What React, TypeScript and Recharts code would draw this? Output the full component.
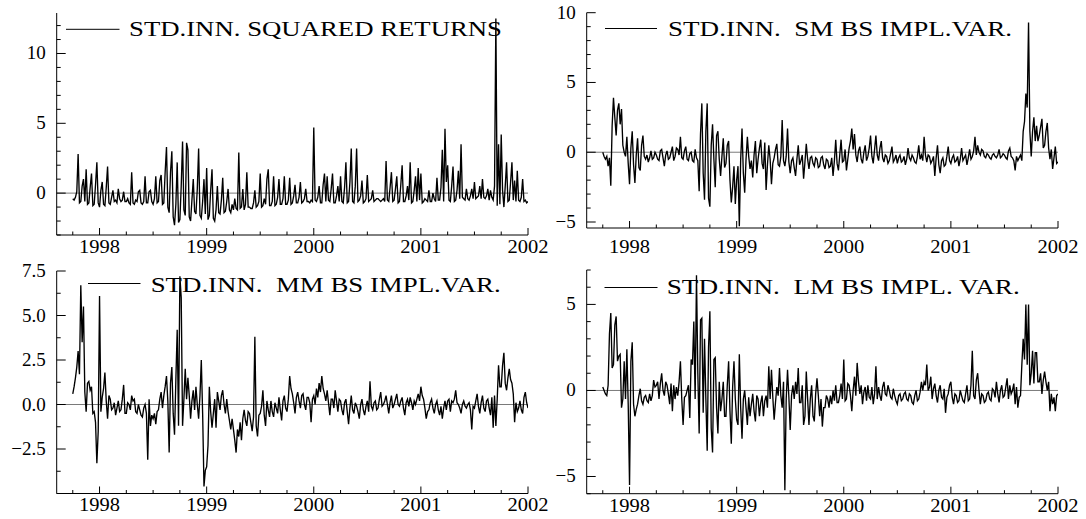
import React from 'react'
import { LineChart, Line, XAxis, YAxis, ReferenceLine, Legend } from 'recharts'

const W = 1086
const H = 519
const FONT = '"Liberation Serif", "Times New Roman", serif'

// observations every 0.0125 year from 1997.75, twenty per quarter, last one at 2002.0
const START = 1997.75
const STEP = 0.0125

const squaredReturns = [
  -0.4, -0.5, -0.3, 0.1, 2.8, -0.7, -0.6, 0.5, 1.0, -0.6, 1.7, -0.8, -0.7, 0.4, 1.4, -0.9, -0.8, 0.6, 2.2, -0.7,
  -1.0, 0.2, 0.8, -0.8, -0.9, 0.4, 1.9, -0.7, -0.8, -0.3, 0.2, -0.6, -0.5, -0.7, 0.3, -0.4, -0.6, -0.5, 0.1, -0.6,
  -0.6, -0.4, -0.7, -0.8, 1.5, -0.7, -0.8, -0.5, -0.6, 0.1, 0.2, -0.7, -0.8, -0.6, 1.2, -0.7, -0.7, 0.1, 0.2, -0.6,
  -0.8, -0.4, 1.2, -0.7, -0.6, 0.9, 1.3, -0.8, -0.7, 1.5, 3.3, -1.0, -1.4, 1.5, 3.0, -1.7, -2.3, -0.8, 2.2, -2.1,
  -1.9, 0.5, 3.7, -1.2, -1.6, 3.6, 3.1, -1.7, -2.0, -0.5, 1.0, -1.3, -1.5, 0.3, 3.2, -1.6, -1.8, -0.6, 1.0, -1.5,
  1.8, -1.9, -1.6, 0.2, 1.7, -1.8, -2.0, -1.2, 0.5, -1.4, -1.5, -0.5, 1.1, -1.4, -1.3, -0.6, 0.3, -1.2, -1.4, -0.8,
  -1.2, -0.4, -1.1, -1.2, 2.9, -1.1, -1.0, 0.3, -1.2, -0.8, 1.5, -1.0, -1.0, -1.1, -1.1, -0.7, 0.2, -1.0, -0.9, -0.6,
  1.4, -1.0, -0.9, -0.4, -0.8, 1.0, 1.7, -0.9, -0.9, -0.6, 1.2, -0.9, -0.8, -0.3, 1.0, -0.8, -0.8, -0.4, 1.2, -0.8,
  -0.8, -0.5, 1.1, -0.8, -0.7, -0.2, 0.6, -0.7, -0.7, -0.3, 0.8, -0.7, -0.6, -0.4, 0.3, -0.6, -0.6, -0.7, -0.5, -0.6,
  4.7, -0.5, -0.6, -0.3, 0.5, -0.7, -0.7, 0.6, 1.4, -0.6, 1.2, -0.5, -0.6, 0.3, 1.4, -0.7, -0.7, -0.2, 0.5, -0.6,
  1.2, -0.6, -0.7, 0.4, 2.2, -0.7, -0.6, 0.8, 3.2, -0.6, -0.7, 0.5, 3.2, -0.6, -0.5, -0.2, 0.9, -0.7, -0.6, -0.4,
  1.3, -0.6, -0.5, -0.4, 0.2, -0.6, -0.5, -0.4, -0.4, -0.5, -0.6, -0.5, -0.4, -0.6, 2.3, -0.5, -0.6, 0.4, 1.5, -0.6,
  -0.5, 0.3, 1.2, -0.7, -0.6, 0.6, 2.0, -0.6, -0.6, -0.2, 0.5, -0.5, 2.2, -0.7, -0.6, 0.2, 1.2, -0.6, 1.8, -0.5,
  1.4, -0.7, -0.6, -0.4, -0.5, -0.6, 0.2, -0.6, -0.6, 0.0, -0.4, -0.6, 1.1, -0.5, -0.5, 0.4, 3.1, -0.6, 4.6, 0.8,
  2.0, -0.5, -0.6, 0.5, 1.9, -0.6, -0.5, 0.2, 1.6, -0.4, 3.5, -0.3, -0.4, -0.5, 0.3, -0.4, -0.5, -0.2, 0.3, -0.4,
  0.8, -0.4, -0.3, -0.2, 0.5, -0.4, 1.0, -0.3, -0.4, -0.2, 0.3, -0.5, 0.2, -0.3, -0.5, 0.5, 12.5, -0.9, 3.5, -0.8,
  4.2, 0.2, -1.0, 0.5, 2.2, -0.6, -0.5, 0.8, 2.2, -0.5, 0.9, -0.6, 1.6, -0.5, -0.6, -0.3, 1.0, -0.6, -0.5, -0.7,
  -0.6,
]

const smImplVar = [
  0.0, -0.3, -0.5, -0.3, -1.0, -0.4, -2.4, 1.9, 3.9, 2.5, 1.2, 3.0, 3.5, 2.0, 3.1, 0.5, 0.0, -0.3, 1.1, -0.8,
  -2.3, 0.3, 1.5, -0.9, -2.2, -0.2, 1.0, -1.1, -1.3, 0.5, 1.2, -0.3, -0.5, -0.2, -0.7, -0.4, 0.1, -0.5, -0.4, 0.0,
  -0.2, -0.5, -0.6, 0.1, 0.2, -0.4, -1.0, -0.2, 0.1, -0.5, -0.4, 0.0, 0.4, -0.6, -0.3, 0.3, 0.2, -0.2, 1.1, -0.4,
  -0.5, 0.1, 0.4, -0.5, -0.6, -0.1, 0.0, -0.6, -0.7, 0.2, -0.4, -0.6, -2.8, 1.3, 3.5, -1.5, -3.4, 1.5, 3.5, -3.3,
  -3.9, 0.5, 2.0, -0.5, -2.5, 1.2, 1.5, -0.5, -1.7, -0.3, 1.0, -1.1, -0.8, 0.5, 0.8, -2.0, -3.6, -2.5, -1.0, -3.7,
  -2.0, -1.0, -5.3, -0.5, 1.7, -1.5, -2.9, -0.5, 1.1, -0.3, -1.2, -0.6, -1.8, -0.2, 0.8, -1.5, -0.5, 0.3, 0.9, -0.8,
  -1.2, 0.7, -2.7, -0.9, 0.5, -0.5, -2.3, -0.8, -0.4, 0.2, 0.6, -0.9, -1.0, -0.3, 2.3, -0.6, -1.0, -0.3, 1.7, -0.7,
  -1.5, -0.6, -0.4, -1.1, -1.7, -0.5, 0.5, -0.9, -0.6, -0.2, -1.9, -0.7, 0.6, -0.5, -1.2, -0.4, -0.3, -0.8, -1.0, -0.4,
  -0.5, -1.1, -1.0, -0.4, -0.3, -0.9, -1.2, -0.5, -0.6, -1.1, -1.0, -0.4, -1.7, -0.6, 0.9, -0.8, -1.3, -0.2, 0.9, -0.7,
  -0.6, 0.2, -1.3, -0.5, 0.3, 0.8, 1.7, 0.2, 1.3, -0.2, -0.7, 0.1, 0.4, -0.5, -0.8, 0.0, 0.5, -0.6, -0.3, 0.3,
  1.2, -0.3, -0.8, 0.2, 1.2, -0.2, -0.6, 0.3, 0.8, -0.4, -0.7, -0.2, -0.3, -0.8, -0.6, -0.1, 0.4, -0.7, -0.5, -0.2,
  -0.8, -0.4, -0.2, -0.7, -0.6, -0.3, -0.9, -0.5, 0.3, -0.4, -0.6, -0.2, -0.4, -0.7, -0.8, -0.3, 0.5, -0.5, -0.2, -0.6,
  1.1, -0.2, -0.7, -0.2, -0.3, -0.8, -0.6, -0.3, -1.7, -0.4, 0.5, -0.9, -1.5, -0.6, -0.4, -1.0, -0.9, -0.3, 0.4, -0.6,
  -0.8, -0.4, -0.2, -0.7, -0.6, -0.3, -1.0, -0.5, 0.3, -0.6, -0.4, -0.2, -0.9, -0.4, 0.2, -0.5, -0.3, 0.1, 1.1, -0.2,
  0.5, 0.0, -0.2, 0.2, 0.1, -0.3, -0.4, -0.1, -0.2, -0.4, -0.5, -0.2, -0.1, -0.3, -0.4, -0.2, 0.2, -0.4, -0.3, -0.1,
  -0.2, -0.4, -0.5, 0.1, 0.3, -0.3, -0.4, -0.6, -1.3, -0.3, -0.6, -0.4, -0.2, -0.6, 1.5, 2.2, 4.2, 3.2, 9.3, 1.5,
  -0.3, 1.5, 2.5, 0.8, 1.9, 0.8, 1.2, 1.8, 2.4, 0.3, 0.5, 1.5, 2.1, 0.3, -0.5, 0.2, -1.2, -0.4, 0.4, -0.8,
  -0.7,
]

const mmImplVar = [
  0.6, 1.0, 1.5, 2.1, 3.0, 1.7, 6.7, 3.5, 5.5, 0.7, -0.4, 1.2, 1.3, 0.8, 1.0, -0.5, -0.4, -1.0, -3.3, -1.5,
  6.1, -0.4, 0.4, 0.9, 1.8, 0.2, -0.8, 0.5, 0.3, -0.3, -0.2, 0.1, -0.6, -0.2, 0.2, -0.4, -0.3, 0.3, 1.1, -0.5,
  -0.5, 0.1, 0.0, -0.3, 0.5, 0.2, 0.3, -0.4, -0.5, 0.0, -0.3, -0.6, -0.7, -0.2, 0.0, -0.5, -3.1, 0.3, -1.2, -0.6,
  -0.8, -0.5, -1.1, -0.4, -0.3, 0.3, 0.7, -0.2, 0.5, 1.0, 1.6, 0.2, -2.7, 1.2, 2.1, -0.5, -1.7, 1.4, 4.2, -1.2,
  7.2, 6.0, -1.2, 0.3, 2.0, 0.3, 1.5, 0.5, -0.8, 0.2, 0.8, -0.3, 1.0, 0.0, -0.8, 0.5, 2.5, -0.5, -4.6, -3.7,
  -3.5, -2.3, 1.0, -0.4, -1.3, -0.5, 0.3, -1.3, 0.7, 0.2, -0.3, 0.5, 0.8, 0.0, -0.5, 0.3, -0.4, -0.9, -1.4, -0.8,
  -1.4, -2.0, -2.7, -1.4, -1.8, -1.0, -2.0, -0.8, -0.3, -0.9, -1.2, -0.4, -0.5, -1.0, -1.5, -0.7, 3.8, -1.2, -1.8, -0.6,
  -0.5, -0.1, 0.8, -0.6, -1.2, 0.2, -0.3, -0.7, 0.2, -0.4, -0.7, 0.1, -0.2, -0.5, 0.4, -0.3, -0.9, 0.2, 0.5, -0.2,
  -0.4, 0.3, 1.6, 0.9, 0.6, 0.1, -0.5, 0.4, 0.7, 0.2, -0.2, 0.5, 0.6, 0.0, -0.3, 0.4, 0.4, 0.1, -1.0, 0.3,
  0.5, 0.0, 0.9, 0.4, 1.2, 0.7, 1.6, 0.9, 0.6, 0.2, 0.8, 0.1, -0.6, 0.3, 0.3, -0.2, 0.8, 0.2, -0.4, 0.3,
  0.2, -0.3, -0.6, 0.1, 0.3, -0.4, -1.1, -0.2, 0.5, -0.3, -0.5, 0.1, -0.1, -0.4, -0.8, 0.0, 0.3, -0.3, -0.6, -0.1,
  0.2, -0.4, 1.3, -0.1, -0.3, 0.1, 0.2, -0.3, -0.2, 0.3, 0.7, -0.1, 0.0, 0.2, 0.5, 0.0, -0.5, 0.1, 0.5, -0.2,
  0.0, 0.3, 0.6, 0.0, -0.1, 0.2, 0.4, -0.2, -0.6, 0.1, 0.3, -0.1, 0.4, 0.1, -0.3, 0.2, 0.0, 0.3, 0.6, 0.2,
  1.0, 0.5, 0.3, -0.2, -0.8, -0.4, -0.3, 0.1, 0.3, -0.2, -0.5, 0.0, 0.2, -0.3, -0.6, -0.1, -0.8, -0.2, 0.2, -0.3,
  0.2, 0.3, -0.4, 0.2, 0.1, 0.3, 0.8, 0.1, 0.0, -0.2, -0.5, 0.0, 0.2, -0.1, -0.2, 0.0, 0.1, -0.3, -1.4, -0.1,
  -0.2, 0.2, 0.6, -0.1, -0.5, 0.1, 0.5, -0.2, -0.4, 0.2, 0.3, -0.2, -0.6, 0.4, -1.3, 0.5, -1.2, 0.3, 2.2, 1.0,
  1.0, 2.2, 2.9, 1.2, 0.8, 1.5, 2.0, 1.4, 1.2, 0.6, -1.0, 0.1, -0.4, -0.2, 0.2, -0.3, -0.5, 0.4, 0.7, 0.1,
  -0.2,
]

const lmImplVar = [
  0.2, 0.0, -0.2, -0.3, 0.3, 3.3, 4.5, 1.3, 1.5, 3.8, 4.3, 1.7, 2.0, 2.1, -1.0, -0.5, 1.7, -0.5, 2.4, -0.8,
  -5.5, 1.7, 2.8, -0.8, -1.5, -1.1, -0.8, -0.3, 0.1, -0.6, -0.8, -0.4, -0.3, -0.6, -0.7, -0.2, -0.6, -0.3, 0.6, 0.2,
  0.3, 0.5, -0.5, 0.4, 1.0, 0.0, -0.3, 0.5, 0.3, -0.2, -0.8, 0.4, -1.2, 0.3, -0.5, 0.2, -0.3, 0.5, 1.7, -0.5,
  -2.0, -0.4, -0.3, 0.0, 0.3, -1.6, 1.8, 1.5, 4.0, -0.5, 6.7, 1.0, -2.5, 4.1, 4.2, -1.3, 3.0, -0.5, -3.5, 2.5,
  4.6, -2.2, -3.6, 1.8, 1.9, -1.0, -2.5, 0.5, -1.2, -0.5, 0.5, -1.5, -1.5, 0.3, 1.7, -1.2, -3.1, 0.2, 1.7, -0.5,
  -1.7, -2.0, 2.1, -1.0, -2.8, -0.5, 0.0, -1.0, -2.0, -0.4, -1.5, -0.8, -0.2, -1.2, -1.8, -0.3, -0.5, -1.5, -0.7, -0.3,
  -1.5, -0.6, -0.3, -1.0, 1.4, -0.5, 1.2, -0.4, -1.7, -0.7, 0.2, -0.3, 1.3, -0.3, -1.0, 0.5, -5.8, -0.5, 1.2, -0.4,
  -2.3, -0.3, 0.3, -0.5, 0.5, -0.2, 1.3, -0.7, -0.7, 0.3, -2.0, -1.5, 1.1, -0.5, -2.0, -0.5, 0.3, -1.5, -1.8, -0.2,
  0.7, -0.3, -1.5, -0.5, -2.1, -1.0, -1.0, -0.3, -0.5, -1.0, -0.3, -0.8, 0.0, -0.6, 0.3, -0.7, -0.7, -0.3, 0.4, -0.5,
  1.8, -0.6, -0.5, 0.4, 0.3, -0.3, -1.2, 0.0, 0.8, -0.3, 1.6, 0.5, -0.2, 0.3, -0.8, -0.1, 0.2, -0.6, 0.3, -0.4,
  -0.5, 0.2, -0.8, -0.2, 1.4, -0.5, 0.2, -0.3, -0.6, 0.2, 0.5, -0.2, -0.3, 0.3, 0.0, -0.4, -0.5, 0.1, -0.3, -0.6,
  -0.8, -0.3, -0.2, -0.6, -0.5, -0.2, -0.1, -0.5, -0.6, -0.2, -0.3, -0.7, -0.8, -0.3, 0.0, -0.6, -0.5, -0.1, 0.5, 0.0,
  0.5, 0.3, 1.5, 0.0, 0.2, 0.8, -0.5, 0.1, 0.4, -0.3, -0.7, 0.0, 0.3, -0.4, -0.5, 0.1, -1.3, -0.4, -0.2, 0.3,
  0.5, -0.4, -0.8, -0.2, -0.3, -0.7, -0.6, 0.0, -0.3, -0.6, -0.7, -0.2, 0.3, -0.6, -0.5, 0.3, 2.3, -0.3, -0.5, 0.6,
  1.0, 0.0, -0.8, -0.2, -0.3, -0.7, -0.6, -0.2, -0.1, -0.5, -0.6, 0.1, 0.0, -0.4, 0.5, -0.2, -0.7, 0.0, 0.3, -0.4,
  -0.3, 0.2, 0.7, -0.5, 0.3, -0.2, 0.0, 0.4, -0.8, 0.2, -1.0, -0.4, -0.3, 1.5, 3.0, 1.8, 5.0, 1.5, 5.0, 0.3,
  1.0, 2.3, 0.4, 2.2, 2.2, 0.5, 0.5, 1.0, -0.2, 0.6, 1.1, 0.5, 0.0, 0.5, -1.2, -0.2, -0.8, -0.4, -1.2, -0.3,
  -0.2,
]

const xTicks = [
  1997.75, 1998, 1998.25, 1998.5, 1998.75, 1999, 1999.25, 1999.5, 1999.75,
  2000, 2000.25, 2000.5, 2000.75, 2001, 2001.25, 2001.5, 2001.75, 2002,
]

const toRows = (values: number[]) => values.map((v, i) => ({ t: START + i * STEP, v }))

const minus = (s: string) => s.replace('-', '\u2212')

function XTick({ x, y, payload, labelDy }: any) {
  const v = payload.value
  const isYear = Math.abs(v - Math.round(v)) < 1e-6
  return (
    <g>
      <line x1={x} x2={x} y1={y} y2={y - (isYear ? 7 : 3.5)} stroke="#000" strokeWidth={1} />
      {isYear && (
        <text x={x} y={y + labelDy} textAnchor="middle" fontFamily={FONT} fontSize={19} fill="#000" textLength={41} lengthAdjust="spacingAndGlyphs">
          {String(Math.round(v))}
        </text>
      )}
    </g>
  )
}

function YTick({ x, y, payload, labels, fmt }: any) {
  const v = payload.value
  const major = labels.some((l: number) => Math.abs(l - v) < 1e-6)
  return (
    <g>
      <line x1={x} x2={x + (major ? 9 : 4)} y1={y} y2={y} stroke="#000" strokeWidth={1} />
      {major && (
        <text x={x - 11} y={y + 6} textAnchor="end" fontFamily={FONT} fontSize={19} fill="#000">
          {minus(fmt(v))}
        </text>
      )}
    </g>
  )
}

interface PanelProps {
  data: { t: number; v: number }[]
  title: string
  box: { left: number; right: number; top: number; bottom: number }
  yDomain: [number, number]
  yTicks: number[]
  yLabels: number[]
  fmt: (v: number) => string
  labelDy: number
  legend: { x1: number; x2: number; ly: number; tx: number; ty: number; tlen: number }
}

function Panel({ data, title, box, yDomain, yTicks, yLabels, fmt, labelDy, legend }: PanelProps) {
  return (
    <div style={{ position: 'absolute', left: 0, top: 0 }}>
      <LineChart width={W} height={H} data={data} margin={{ top: box.top, right: W - box.right, bottom: 0, left: 0 }}>
        <XAxis
          type="number"
          dataKey="t"
          domain={[1997.6, 2002]}
          ticks={xTicks}
          interval={0}
          height={H - box.bottom}
          tickSize={0}
          tickMargin={0}
          tickLine={false}
          axisLine={{ stroke: '#000', strokeWidth: 1 }}
          tick={(p: any) => <XTick {...p} labelDy={labelDy} />}
          allowDataOverflow
        />
        <YAxis
          type="number"
          domain={yDomain}
          ticks={yTicks}
          interval={0}
          width={box.left}
          tickSize={0}
          tickMargin={0}
          tickLine={false}
          axisLine={{ stroke: '#000', strokeWidth: 1 }}
          tick={(p: any) => <YTick {...p} labels={yLabels} fmt={fmt} />}
          allowDataOverflow
        />
        <ReferenceLine y={0} stroke="#7a7a7a" strokeWidth={1} />
        <Line type="linear" dataKey="v" stroke="#000" strokeWidth={1.35} dot={false} isAnimationActive={false} />
        <Legend
          layout="horizontal"
          verticalAlign="middle"
          align="center"
          wrapperStyle={{ left: 0, top: 0, width: W, height: H, pointerEvents: 'none' }}
          content={() => (
            <svg width={W} height={H} style={{ display: 'block' }}>
              <line x1={legend.x1} x2={legend.x2} y1={legend.ly} y2={legend.ly} stroke="#000" strokeWidth={1} />
              <text x={legend.tx} y={legend.ty} fontFamily={FONT} fontSize={22} fill="#000" textLength={legend.tlen} lengthAdjust="spacingAndGlyphs" xmlSpace="preserve">
                {title}
              </text>
            </svg>
          )}
        />
      </LineChart>
    </div>
  )
}

const intFmt = (v: number) => String(v)
const decFmt = (v: number) => v.toFixed(1)

export default function App() {
  return (
    <div style={{ position: 'absolute', left: 0, top: 0, width: W, height: H, background: '#fff', overflow: 'hidden' }}>
      <Panel
        data={toRows(squaredReturns)}
        title="STD.INN. SQUARED RETURNS"
        box={{ left: 56.7, right: 528, top: 13, bottom: 235 }}
        yDomain={[-3, 12.9]}
        yTicks={[-3, -2, -1, 0, 1, 2, 3, 4, 5, 6, 7, 8, 9, 10, 11, 12]}
        yLabels={[0, 5, 10]}
        fmt={intFmt}
        labelDy={18}
        legend={{ x1: 66, x2: 119.5, ly: 29.3, tx: 129, ty: 36, tlen: 373 }}
      />
      <Panel
        data={toRows(smImplVar)}
        title="STD.INN.  SM BS IMPL.VAR."
        box={{ left: 586.7, right: 1058, top: 12.7, bottom: 228 }}
        yDomain={[-5.43, 10]}
        yTicks={[-5, -4, -3, -2, -1, 0, 1, 2, 3, 4, 5, 6, 7, 8, 9, 10]}
        yLabels={[-5, 0, 5, 10]}
        fmt={intFmt}
        labelDy={25}
        legend={{ x1: 605, x2: 657, ly: 28.5, tx: 668, ty: 36, tlen: 344 }}
      />
      <Panel
        data={toRows(mmImplVar)}
        title="STD.INN.  MM BS IMPL.VAR."
        box={{ left: 56.7, right: 528, top: 271, bottom: 493.5 }}
        yDomain={[-5, 7.5]}
        yTicks={[-5, -3.75, -2.5, -1.25, 0, 1.25, 2.5, 3.75, 5, 6.25, 7.5]}
        yLabels={[-2.5, 0, 2.5, 5, 7.5]}
        fmt={decFmt}
        labelDy={17.5}
        legend={{ x1: 88, x2: 140.5, ly: 283.5, tx: 150.7, ty: 292, tlen: 350 }}
      />
      <Panel
        data={toRows(lmImplVar)}
        title="STD.INN.  LM BS IMPL. VAR."
        box={{ left: 586.7, right: 1058, top: 270, bottom: 493.7 }}
        yDomain={[-6, 7]}
        yTicks={[-6, -5, -4, -3, -2, -1, 0, 1, 2, 3, 4, 5, 6, 7]}
        yLabels={[-5, 0, 5]}
        fmt={intFmt}
        labelDy={18}
        legend={{ x1: 604.5, x2: 657.5, ly: 287.5, tx: 666.7, ty: 294.3, tlen: 353 }}
      />
    </div>
  )
}
